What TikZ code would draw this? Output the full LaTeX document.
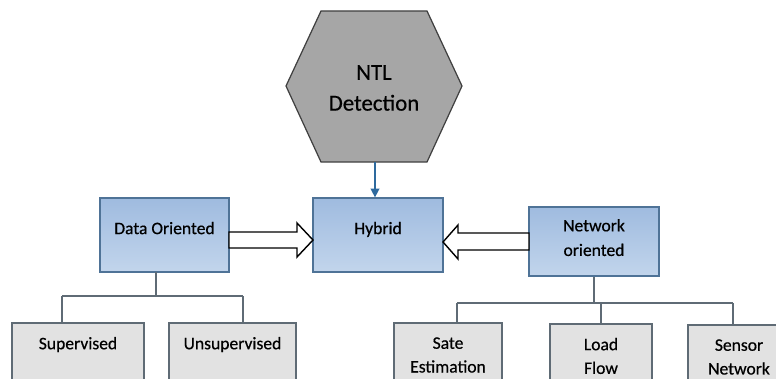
\documentclass[tikz,border=0pt]{standalone}
\usepackage{fontspec}
\setmainfont{Carlito}
\newfontfamily\heavy{Carlito}[FakeBold=0.5]
\usetikzlibrary{arrows.meta}

\definecolor{boxblue}{HTML}{9FBBDF}
\definecolor{boxblueb}{HTML}{C2D5EC}
\definecolor{boxedge}{HTML}{4F7397}
\definecolor{leafgray}{HTML}{E2E2E2}
\definecolor{leafedge}{HTML}{5F6B75}
\definecolor{hexgray}{HTML}{A6A6A6}
\definecolor{linkblue}{HTML}{2E6A9E}

\tikzset{
	catbox/.style={draw=boxedge, line width=0.7pt, top color=boxblue, bottom color=boxblueb,
		font=\heavy\fontsize{10}{14}\selectfont, align=center, minimum height=1.48cm},
	leafbox/.style={draw=leafedge, line width=0.7pt, fill=leafgray,
		font=\heavy\fontsize{10}{13.5}\selectfont, align=center, minimum height=1.28cm},
	tree/.style={draw=leafedge, line width=0.7pt},
	hollow/.style={draw=black, line width=0.8pt, fill=white, line join=miter}
}

\begin{document}
\begin{tikzpicture}[x=0.02cm, y=-0.02cm]

	\clip (0,0) rectangle (776,378);
	\useasboundingbox (0,0) rectangle (776,378);

	% Hexagon
	\filldraw[fill=hexgray, draw=black!75, line width=0.7pt]
		(321,11) -- (427,11) -- (462,86) -- (427,162) -- (321,162) -- (286,86) -- cycle;
	\node[font=\heavy\fontsize{13}{17.5}\selectfont, align=center] (ntl) at (374,88) {NTL\\Detection};
	\coordinate (hexbot) at (375,162);

	% Categories
	\node[catbox, minimum width=2.58cm, text height=7pt, text depth=8pt] (data) at (164.5,235) {Data Oriented};
	\node[catbox, minimum width=2.6cm, text height=7pt, text depth=8pt] (hybrid) at (378,235) {Hybrid};
	\node[catbox, minimum width=2.6cm, minimum height=1.38cm, text depth=4.5pt] (network) at (594,241.5) {Network\\oriented};

	% Leaves
	\node[leafbox, minimum width=2.64cm] (sup) at (78,355) {Supervised\\~};
	\node[leafbox, minimum width=2.54cm] (unsup) at (232.5,355) {Unsupervised\\~};
	\node[leafbox, minimum width=2.16cm] (sate) at (448,355) {Sate\\Estimation};
	\node[leafbox, minimum width=2.04cm] (load) at (601,356) {Load\\Flow};
	\node[leafbox, minimum width=2.04cm] (sensor) at (739,357) {Sensor\\Network};

	% Links
	\draw[linkblue, line width=0.8pt, -{Triangle[length=5pt,width=5pt]}] (hexbot) -- (hexbot |- hybrid.north);

	\draw[hollow] (229,232) -- (297,232) -- (297,223) -- (313,240) -- (297,257) -- (297,248) -- (229,248) -- cycle;
	\draw[hollow] (529,233) -- (458,233) -- (458,225) -- (443,242) -- (458,259) -- (458,250) -- (529,250) -- cycle;

	% Tree
	\coordinate (dl) at (62,296);
	\coordinate (dr) at (243,296);
	\draw[tree] (156,272) -- (156,296);
	\draw[tree] (dl) -- (dr);
	\draw[tree] (dl) -- (dl |- sup.north);
	\draw[tree] (dr) -- (dr |- unsup.north);

	\coordinate (nl) at (457,303);
	\coordinate (nr) at (733,303);
	\draw[tree] (network.south) -- (network.south |- nl);
	\draw[tree] (nl) -- (nr);
	\draw[tree] (nl) -- (nl |- sate.north);
	\draw[tree] (load.north |- nl) -- (load.north);
	\draw[tree] (nr) -- (nr |- sensor.north);

\end{tikzpicture}
\end{document}
